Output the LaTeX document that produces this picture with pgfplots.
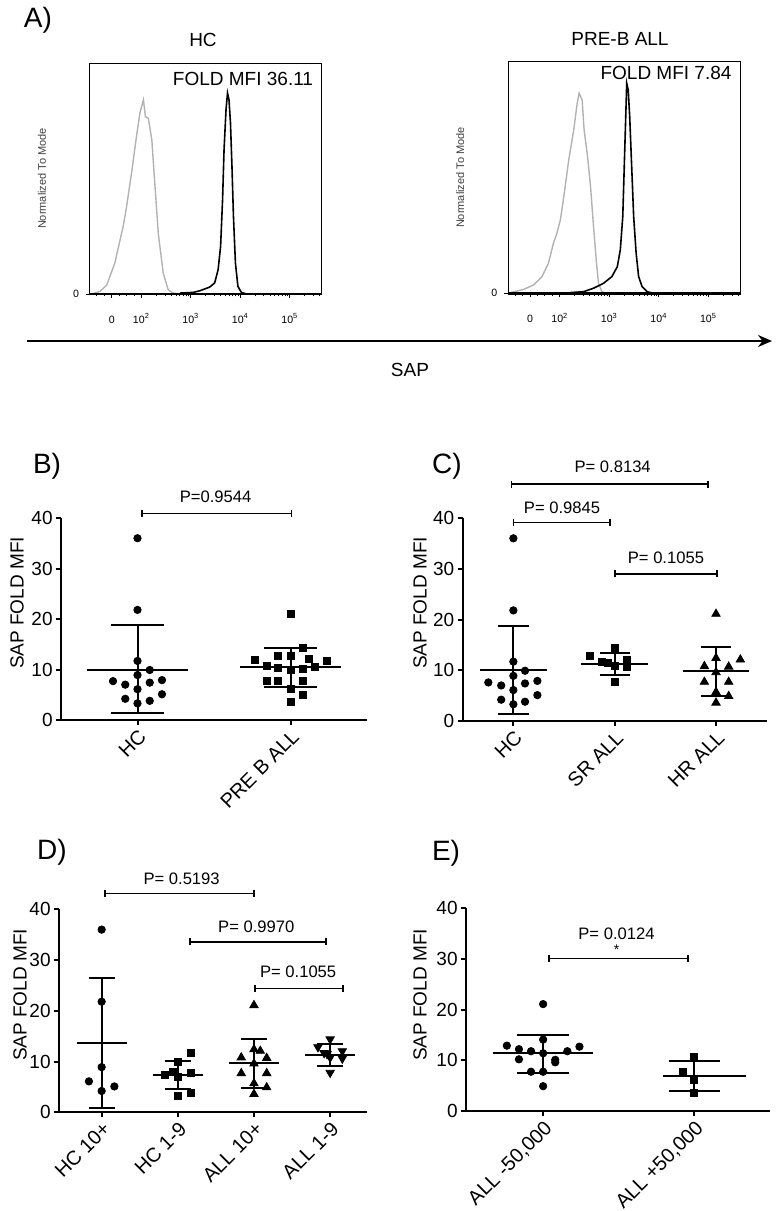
\documentclass[border=0pt]{standalone}
\usepackage{pgfplots}
\pgfplotsset{compat=1.18}
\usepackage{fontspec}
\setmainfont{Liberation Sans}
\usetikzlibrary{arrows.meta}

\newcommand{\seg}[4]{\addplot[black,line width=1pt,mark=none,forget plot] coordinates {(#1,#2) (#3,#4)};}
\newcommand{\brk}[3]{\draw[line width=0.8pt,{Bar[width=3.5pt]}-{Bar[width=3.5pt]}] (axis cs:#1,#3) -- (axis cs:#2,#3);}
\newcommand{\ptxt}[3]{\node[font=\fontsize{8.3}{9}\selectfont, inner sep=0pt] at (axis cs:#1,#2) {#3};}

\pgfplotsset{
 scat/.style={scale only axis, anchor=south west, ymin=0, ymax=40, ytick={0,10,20,30,40},
   axis lines*=left, axis line style={line width=1pt}, tick style={black,line width=1pt},
   tick align=outside, major tick length=2.5pt, clip=false,
   /pgf/number format/assume math mode=true,
   yticklabel style={font=\fontsize{9.5}{11}\selectfont, inner sep=1.5pt},
   xticklabel style={rotate=45, anchor=north east, font=\fontsize{10}{12}\selectfont, inner sep=1pt}},
 pdot/.style={only marks, mark=*, mark size=1.85pt, black},
 psq/.style={only marks, mark=square*, mark size=1.75pt, black},
 ptri/.style={only marks, mark=triangle*, mark size=2.4pt, black},
 pitri/.style={only marks, mark=triangle*, mark size=2.4pt, black, mark options={rotate=180}},
 hist/.style={scale only axis, anchor=south west, width=116pt, height=115.5pt,
   xmin=0.96, xmax=5.65, ymin=0, ymax=100, axis line style={line width=0.5pt},
   xtick={1.4,2,3,4,5},
   xticklabels={0,{10\textsuperscript{2}},{10\textsuperscript{3}},{10\textsuperscript{4}},{10\textsuperscript{5}}},
   minor xtick={1.1,1.25,1.55,1.7,1.85,2.301,2.477,2.602,2.699,2.778,2.845,2.903,2.954,3.301,3.477,3.602,3.699,3.778,3.845,3.903,3.954,4.301,4.477,4.602,4.699,4.778,4.845,4.903,4.954,5.301,5.477,5.602},
   ytick={0}, xtick pos=bottom, ytick pos=left, tick align=outside,
   major tick length=2pt, minor tick length=1.2pt, tick style={black,line width=0.5pt},
   ticklabel style={font=\fontsize{5.3}{6}\selectfont},
   xticklabel style={anchor=base, yshift=-12.5pt},
   /pgf/number format/assume math mode=true,
   ylabel={Normalized To Mode},
   ylabel style={font=\fontsize{5.5}{6}\selectfont, text=black!75, at={(axis description cs:-0.207,0.5)}, anchor=center},
   clip=false},
 ctl/.style={gray!60, line width=0.7pt, mark=none},
 sap/.style={black, line width=0.8pt, mark=none}
}

\begin{document}
\begin{tikzpicture}
\path[use as bounding box] (0,0) rectangle (390pt,-605.5pt);

% ---------- Panel A ----------
\node[font=\fontsize{14}{16}\selectfont] at (19pt,-10pt) {A)};
\node[font=\fontsize{9.5}{11}\selectfont] at (101.5pt,-20pt) {HC};
\node[font=\fontsize{9.5}{11}\selectfont] at (310pt,-19.7pt) {PRE-B ALL};

\begin{axis}[hist, at={(45pt,-147pt)}]
\addplot[ctl] coordinates {(0.99,0) (1.16,1.1) (1.30,3.9) (1.46,13.3) (1.63,29.2) (1.70,37.9) (1.80,52.4) (1.90,68.3) (1.97,78.4) (2.04,84.1) (2.08,76.8) (2.14,76.0) (2.21,66.7) (2.27,47.9) (2.34,26.3) (2.44,9.1) (2.54,1.9) (2.64,0.4) (2.80,0)};
\addplot[sap] coordinates {(2.78,0.4) (3.05,0.7) (3.18,1.4) (3.38,3.0) (3.48,4.8) (3.55,10.5) (3.60,20.6) (3.64,40.8) (3.67,62.5) (3.71,79.8) (3.74,87.0) (3.77,84.1) (3.80,74.0) (3.83,55.2) (3.86,33.6) (3.90,13.4) (3.95,3.3) (4.02,0.7) (4.12,0)};
\addplot[black, line width=1.2pt, mark=none] coordinates {(0.96,0) (5.65,0)};
\end{axis}
\node[font=\fontsize{9.5}{11}\selectfont] at (121.5pt,-39.5pt) {FOLD MFI 36.11};

\begin{axis}[hist, at={(254.15pt,-146.65pt)}, height=115.8pt, width=116.2pt]
\addplot[ctl] coordinates {(1.0,0.3) (1.27,1.7) (1.47,3.6) (1.64,7.2) (1.77,13.0) (1.87,21.6) (1.94,25.9) (2.01,31.6) (2.08,41.7) (2.18,57.6) (2.28,70.5) (2.35,82.0) (2.39,86.4) (2.45,83.5) (2.49,70.5) (2.56,59.0) (2.62,46.0) (2.68,28.8) (2.74,13.0) (2.78,4.3) (2.85,0.7) (2.95,0)};
\addplot[sap] coordinates {(2.21,0.3) (2.48,0.7) (2.68,2.2) (2.88,4.3) (3.05,7.2) (3.16,11.5) (3.22,18.7) (3.27,33.1) (3.30,54.7) (3.33,76.3) (3.35,90.7) (3.38,87.8) (3.41,76.3) (3.45,54.7) (3.49,33.1) (3.54,17.3) (3.59,7.2) (3.66,2.9) (3.76,0.7) (3.89,0)};
\addplot[black, line width=1.2pt, mark=none] coordinates {(0.96,0) (5.65,0)};
\end{axis}
\node[font=\fontsize{9.5}{11}\selectfont] at (333pt,-36.5pt) {FOLD MFI 7.84};

\draw[line width=1pt, -{Stealth[length=7pt,width=6pt]}] (13.5pt,-170.5pt) -- (386pt,-170.5pt);
\node[font=\fontsize{9.5}{11}\selectfont] at (205pt,-185pt) {SAP};

% ---------- Panel B ----------
\node[font=\fontsize{14}{16}\selectfont] at (23.5pt,-233pt) {B)};
\node[font=\fontsize{9.5}{11}\selectfont, rotate=90] at (8.5pt,-301.5pt) {SAP FOLD MFI};
\begin{axis}[scat, at={(30.5pt,-360pt)}, width=153pt, height=101pt, xmin=-0.5, xmax=1.5,
  xtick={0,1}, xticklabels={HC,PRE B ALL}]
\addplot[pdot] coordinates {(0,36.0) (0,21.8) (0,11.7) (0.08,9.9) (0,8.9) (-0.16,7.7) (-0.08,7.0) (0.08,7.4) (0.16,7.9) (0,6.1) (0.16,5.1) (-0.08,4.2) (0.08,3.8) (0,3.3)};
\addplot[psq] coordinates {(1,21.1) (1.08,14.2) (0.92,12.7) (1,12.7) (1.12,12.2) (0.765,11.9) (1.24,11.7) (0.843,10.8) (0.92,10.4) (1,9.9) (1.08,10.1) (1.16,10.6) (0.843,7.8) (0.92,7.7) (1.08,7.7) (1,6.1) (1.08,5.0) (1,3.6)};
\seg{-0.33}{10.0}{0.33}{10.0} \seg{0}{1.3}{0}{18.8} \seg{-0.17}{18.8}{0.17}{18.8} \seg{-0.17}{1.3}{0.17}{1.3}
\seg{0.67}{10.4}{1.33}{10.4} \seg{1}{6.5}{1}{14.3} \seg{0.83}{14.3}{1.17}{14.3} \seg{0.83}{6.5}{1.17}{6.5}
\brk{0.026}{1.013}{40.9}
\ptxt{0.51}{44.2}{P=0.9544}
\end{axis}

% ---------- Panel C ----------
\node[font=\fontsize{14}{16}\selectfont] at (223.5pt,-233pt) {C)};
\node[font=\fontsize{9.5}{11}\selectfont, rotate=90] at (210pt,-301.5pt) {SAP FOLD MFI};
\begin{axis}[scat, at={(231.35pt,-360.5pt)}, width=152pt, height=101.5pt, xmin=-0.5, xmax=2.5,
  xtick={0,1,2}, xticklabels={HC,SR ALL,HR ALL}]
\addplot[pdot] coordinates {(0,36.0) (0,21.8) (0,11.7) (0.115,9.9) (0,8.9) (-0.247,7.6) (-0.12,7.0) (0.115,7.4) (0.237,7.9) (0,6.1) (0.237,5.1) (-0.12,4.2) (0.115,3.8) (0,3.3)};
\addplot[psq] coordinates {(0.753,12.85) (0.875,11.7) (0.93,11.5) (1,14.4) (1,10.8) (1.12,12.07) (1.12,10.6) (1,7.8)};
\addplot[ptri] coordinates {(2,21.1) (2,12.4) (2.24,12.1) (1.885,10.8) (2.125,10.7) (2,9.6) (1.885,7.7) (2.125,7.7) (2,5.7) (2.125,4.9) (2,3.6)};
\seg{-0.33}{10.0}{0.33}{10.0} \seg{0}{1.3}{0}{18.7} \seg{-0.15}{18.7}{0.15}{18.7} \seg{-0.15}{1.3}{0.15}{1.3}
\seg{0.67}{11.3}{1.33}{11.3} \seg{1}{9.1}{1}{13.4} \seg{0.85}{13.4}{1.15}{13.4} \seg{0.85}{9.1}{1.15}{9.1}
\seg{1.67}{9.8}{2.33}{9.8} \seg{2}{5.0}{2}{14.5} \seg{1.85}{14.5}{2.15}{14.5} \seg{1.85}{5.0}{2.15}{5.0}
\brk{-0.027}{1.93}{46.7}
\ptxt{0.98}{50.0}{P= 0.8134}
\brk{-0.007}{0.96}{39.1}
\ptxt{0.48}{42.05}{P= 0.9845}
\brk{0.996}{2.02}{29.0}
\ptxt{1.506}{32.1}{P= 0.1055}
\end{axis}

% ---------- Panel D ----------
\node[font=\fontsize{14}{16}\selectfont] at (26pt,-426pt) {D)};
\node[font=\fontsize{9.5}{11}\selectfont, rotate=90] at (10pt,-497.5pt) {SAP FOLD MFI};
\begin{axis}[scat, at={(29.5pt,-556.15pt)}, width=153.85pt, height=101.5pt, xmin=-0.56, xmax=3.48,
  xtick={0,1,2,3}, xticklabels={HC 10+,HC 1-9,ALL 10+,ALL 1-9}]
\addplot[pdot] coordinates {(0,36.0) (0,21.8) (0,8.9) (-0.167,6.1) (0.167,5.1) (0,4.2)};
\addplot[psq] coordinates {(1.167,11.7) (1,9.9) (0.833,7.4) (0.93,7.9) (1.167,7.7) (1,7.0) (1,3.3) (1.167,3.8)};
\addplot[ptri] coordinates {(2,21.1) (2,12.4) (2.083,12.1) (1.833,10.8) (2.167,10.7) (2,9.6) (1.833,7.7) (2.167,7.7) (2,5.7) (2.167,4.9) (2,3.6)};
\addplot[pitri] coordinates {(3,14.4) (2.84,12.85) (2.92,11.7) (2.96,11.5) (3.16,12.07) (3,10.8) (3.16,10.6) (3,7.8)};
\seg{-0.33}{13.6}{0.33}{13.6} \seg{0}{0.8}{0}{26.4} \seg{-0.17}{26.4}{0.17}{26.4} \seg{-0.17}{0.8}{0.17}{0.8}
\seg{0.67}{7.35}{1.33}{7.35} \seg{1}{4.5}{1}{10.1} \seg{0.83}{10.1}{1.17}{10.1} \seg{0.83}{4.5}{1.17}{4.5}
\seg{1.67}{9.7}{2.33}{9.7} \seg{2}{4.85}{2}{14.5} \seg{1.83}{14.5}{2.17}{14.5} \seg{1.83}{4.85}{2.17}{4.85}
\seg{2.67}{11.3}{3.33}{11.3} \seg{3}{9.2}{3}{13.4} \seg{2.83}{13.4}{3.17}{13.4} \seg{2.83}{9.2}{3.17}{9.2}
\brk{0.03}{2.01}{43.15}
\ptxt{1.05}{46.1}{P= 0.5193}
\brk{1.146}{2.96}{33.6}
\ptxt{2.03}{36.6}{P= 0.9970}
\brk{2.0}{3.18}{24.4}
\ptxt{2.58}{27.7}{P= 0.1055}
\end{axis}

% ---------- Panel E ----------
\node[font=\fontsize{14}{16}\selectfont] at (223pt,-426.5pt) {E)};
\node[font=\fontsize{9.5}{11}\selectfont, rotate=90] at (210pt,-497.5pt) {SAP FOLD MFI};
\begin{axis}[scat, at={(233pt,-555.5pt)}, width=152pt, height=101.35pt, xmin=-0.51, xmax=1.5,
  xtick={0,1}, xticklabels={{ALL -50,000},{ALL +50,000}}]
\addplot[pdot] coordinates {(0,21.1) (0,14.1) (-0.24,12.9) (0.24,12.7) (-0.16,12.2) (-0.08,11.8) (0.16,11.8) (0,11.4) (-0.16,10.2) (0.08,10.1) (0.08,9.6) (-0.08,7.75) (0,7.75) (0,4.9)};
\addplot[psq] coordinates {(1,10.6) (0.925,7.8) (1,6.1) (1,3.5)};
\seg{-0.33}{11.4}{0.33}{11.4} \seg{0}{7.6}{0}{15.0} \seg{-0.17}{15.0}{0.17}{15.0} \seg{-0.17}{7.6}{0.17}{7.6}
\seg{0.79}{7.0}{1.34}{7.0} \seg{1}{3.9}{1}{9.9} \seg{0.83}{9.9}{1.17}{9.9} \seg{0.83}{3.9}{1.17}{3.9}
\brk{0.033}{0.962}{30.1}
\ptxt{0.485}{34.9}{P= 0.0124}
\node[font=\fontsize{7}{8}\selectfont, inner sep=0pt] at (axis cs:0.485,31.9) {*};
\end{axis}

\end{tikzpicture}
\end{document}
